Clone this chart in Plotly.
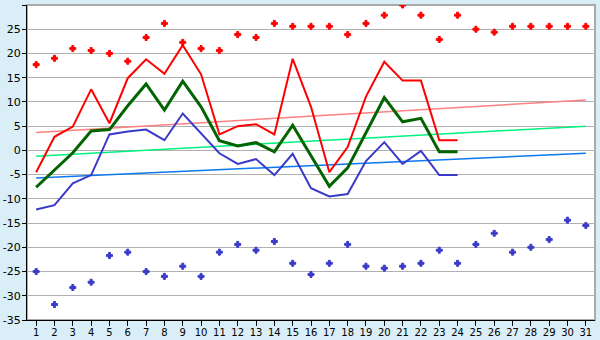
import plotly.graph_objects as go

days = list(range(1, 32))
line_days = list(range(1, 25))

max_points = [17.7, 19.0, 21.0, 20.6, 20.0, 18.4, 23.3, 26.2, 22.3, 21.0,
              20.6, 23.9, 23.3, 26.2, 25.6, 25.6, 25.6, 23.9, 26.2, 27.9,
              30.0, 27.9, 22.9, 27.9, 25.0, 24.4, 25.6, 25.6, 25.6, 25.6, 25.6]
min_points = [-25.0, -31.8, -28.3, -27.2, -21.7, -21.0, -25.0, -26.0, -23.9, -26.0,
              -21.0, -19.4, -20.6, -18.8, -23.3, -25.6, -23.3, -19.4, -23.9, -24.3,
              -23.9, -23.3, -20.6, -23.3, -19.4, -17.1, -21.0, -20.0, -18.4, -14.4, -15.5]

max_line = [-4.5, 2.8, 4.9, 12.6, 5.6, 14.9, 18.8, 15.8, 21.7, 15.7,
            3.3, 5.0, 5.4, 3.3, 18.9, 9.0, -4.5, 0.7, 11.1, 18.3,
            14.4, 14.4, 2.1, 2.1]
mean_line = [-7.6, -4.0, -0.5, 4.0, 4.3, 9.2, 13.7, 8.3, 14.3, 9.0,
             2.0, 0.9, 1.6, -0.3, 5.2, -1.1, -7.4, -3.6, 3.6, 10.9,
             5.9, 6.6, -0.3, -0.3]
min_line = [-12.2, -11.3, -6.8, -5.1, 3.3, 3.9, 4.3, 2.1, 7.6, 3.4,
            -0.6, -2.8, -1.8, -5.1, -0.7, -7.8, -9.5, -9.0, -2.2, 1.7,
            -2.8, -0.1, -5.1, -5.1]

trend_days = [1, 31]
max_trend = [3.7, 10.4]
mean_trend = [-1.2, 5.0]
min_trend = [-5.7, -0.6]

y_ticks = list(range(-35, 31, 5))
y_labels = [str(v) for v in y_ticks]

fig = go.Figure()
fig.add_trace(go.Scatter(x=trend_days, y=max_trend, mode="lines",
                         line=dict(color="#ff8080", width=1.5)))
fig.add_trace(go.Scatter(x=trend_days, y=mean_trend, mode="lines",
                         line=dict(color="#00f080", width=1.5)))
fig.add_trace(go.Scatter(x=trend_days, y=min_trend, mode="lines",
                         line=dict(color="#0a78f0", width=1.5)))
fig.add_trace(go.Scatter(x=line_days, y=max_line, mode="lines",
                         line=dict(color="#ff0000", width=2)))
fig.add_trace(go.Scatter(x=line_days, y=mean_line, mode="lines",
                         line=dict(color="#006400", width=3)))
fig.add_trace(go.Scatter(x=line_days, y=min_line, mode="lines",
                         line=dict(color="#3a3ac8", width=2)))
fig.add_trace(go.Scatter(x=days, y=max_points, mode="markers",
                         marker=dict(symbol="cross", size=5, color="#ff0000",
                                     line=dict(width=1, color="#ff0000"))))
fig.add_trace(go.Scatter(x=days, y=min_points, mode="markers",
                         marker=dict(symbol="cross", size=5, color="#3a3ac8",
                                     line=dict(width=1, color="#3a3ac8"))))

fig.update_layout(
    width=600, height=340,
    margin=dict(l=27, r=5, t=5, b=20, autoexpand=False),
    paper_bgcolor="#d9eef6",
    plot_bgcolor="#ffffff",
    showlegend=False,
    font=dict(family="DejaVu Sans", size=11, color="#000000"),
    shapes=[dict(type="rect", xref="paper", yref="paper", x0=0, x1=1, y0=0, y1=1,
                 line=dict(color="#aaaaaa", width=2), layer="below")],
)
fig.update_xaxes(range=[0.5, 31.5], tickvals=days, ticktext=[str(d) for d in days],
                 showgrid=False, zeroline=False, showline=True, linecolor="#000000",
                 linewidth=1, ticks="outside", ticklen=5, tickcolor="#000000",
                 tickfont=dict(size=10), ticklabelstandoff=-2,
                 automargin=False)
fig.update_yaxes(range=[-35, 30], tickvals=y_ticks, ticktext=y_labels, showgrid=True,
                 gridcolor="#b0b0b0", gridwidth=1, zeroline=False, showline=True,
                 linecolor="#000000", linewidth=1, ticks="outside", ticklen=4,
                 tickcolor="#000000", ticklabelstandoff=-1, automargin=False)

fig.write_html("out.html")
